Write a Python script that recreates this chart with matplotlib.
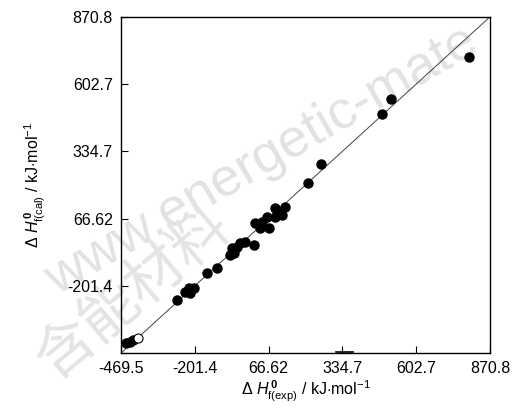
import matplotlib
matplotlib.use("Agg")
import matplotlib.pyplot as plt

plt.rcParams["font.family"] = ["Liberation Sans", "DejaVu Sans"]
plt.rcParams["mathtext.fontset"] = "custom"
plt.rcParams["mathtext.rm"] = "Liberation Sans"
plt.rcParams["mathtext.it"] = "Liberation Sans:italic"
plt.rcParams["mathtext.bf"] = "Liberation Sans:bold"

# tick values used by the original figure
TICKS = [-469.5, -201.4, 66.62, 334.7, 602.7, 870.8]
X_LABELS = ["-469.5", "-201.4", "66.62", "334.7", "602.7", "870.8"]
Y_LABELS = ["", "-201.4", "66.62", "334.7", "602.7", "870.8"]

h_exp = [795.4, 510.2, 480.0, 257.8, 209.0, 127.8, 91.4, 115.8, 91.4, 61.1,
         42.9, 18.5, 36.7, 67.0, 102.3, 12.3, -17.9, -36.1, -48.1, -66.3,
         -60.5, -72.5, -121.0, -157.4, -206.2, -224.4, -236.4, -218.2,
         -266.6, -437.8, -425.8, -451.3]
h_cal = [712.4, 544.9, 485.1, 283.2, 208.6, 114.1, 107.7, 81.0, 74.2, 74.2,
         54.3, 47.9, 27.9, 27.9, 92.9, -38.7, -25.5, -31.9, -45.5, -51.8,
         -71.8, -78.6, -129.2, -151.6, -211.4, -211.4, -225.0, -231.4,
         -258.1, -424.4, -417.6, -429.6]

# a few hollow markers
open_exp = [-407.6]
open_cal = [-410.9]

fig = plt.figure(figsize=(5.13, 4.12), dpi=100)

# faint watermarks, kept under the axes
fig.text(0.51, 0.61, "www.energetic-mate", fontsize=39, color="#e2e2e2",
         rotation=30, ha="center", va="center", zorder=-5)
fig.text(0.26, 0.29, "含能材料", fontsize=42, color="#e4e4e4", rotation=40,
         ha="center", va="center", zorder=-5,
         family=["Noto Sans CJK SC", "DejaVu Sans"])

ax = fig.add_axes([0.236, 0.143, 0.719, 0.816])
ax.set_zorder(2)
ax.patch.set_alpha(0)

lo, hi = TICKS[0], TICKS[-1]
ax.plot([lo, hi], [lo, hi], color="#444444", lw=0.7, zorder=2)

ax.plot(h_exp, h_cal, "o", ms=6.5, color="black", mec="black", zorder=3)
ax.plot(open_exp, open_cal, "o", ms=6.5, mfc="white", mec="black", mew=0.8,
        zorder=3)

ax.set_xlim(lo, hi)
ax.set_ylim(lo, hi)
ax.set_xticks(TICKS)
ax.set_xticklabels(X_LABELS)
ax.set_yticks(TICKS)
ax.set_yticklabels(Y_LABELS)
ax.tick_params(direction="in", length=5, width=0.8, labelsize=11.5,
               top=False, right=False, pad=6, colors="black")
for s in ax.spines.values():
    s.set_linewidth(1.0)

# small bar on the bottom axis near 334.7
ax.plot([310, 375], [lo + 4, lo + 4], color="black", lw=1.2,
        clip_on=False, zorder=4)

ax.set_xlabel(r"$\Delta\ H^{\,\mathbf{0}}_{\rm f(exp)}$ / kJ$\cdot$mol$^{-1}$",
              fontsize=11.5, labelpad=2)
ax.set_ylabel(r"$\Delta\ H^{\,\mathbf{0}}_{\rm f(cal)}$ / kJ$\cdot$mol$^{-1}$",
              fontsize=11.5, labelpad=14)

fig.savefig("out.png", dpi=100, facecolor="white")
